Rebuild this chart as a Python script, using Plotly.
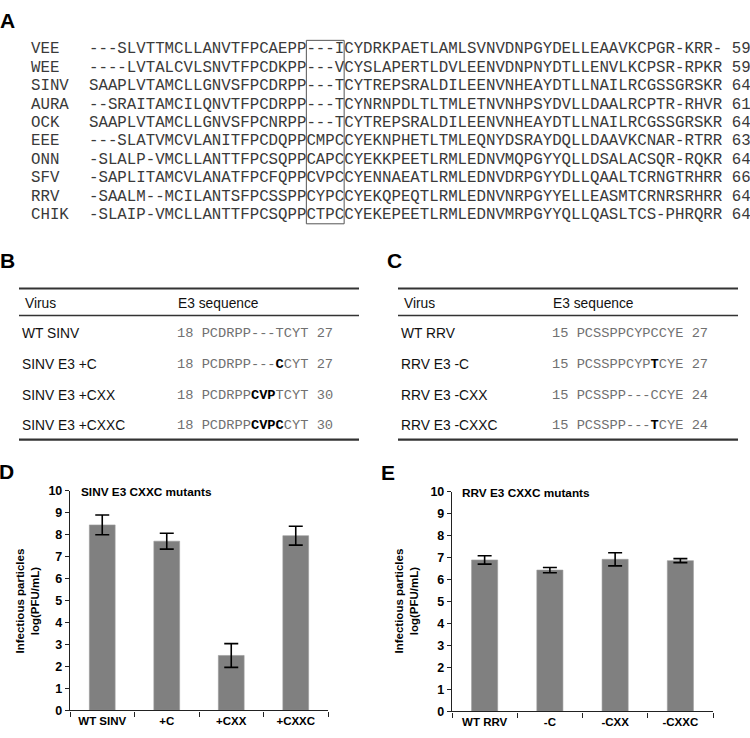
import re

import plotly.graph_objects as go

W, H = 750, 738

# --- A: E3 alignment -------------------------------------------------------
ALIGN_NAMES = ["VEE", "WEE", "SINV", "AURA", "OCK", "EEE", "ONN", "SFV", "RRV", "CHIK"]
ALIGN_SEQS = [
    "---SLVTTMCLLANVTFPCAEPP---ICYDRKPAETLAMLSVNVDNPGYDELLEAAVKCPGR-KRR-",
    "----LVTALCVLSNVTFPCDKPP---VCYSLAPERTLDVLEENVDNPNYDTLLENVLKCPSR-RPKR",
    "SAAPLVTAMCLLGNVSFPCDRPP---TCYTREPSRALDILEENVNHEAYDTLLNAILRCGSSGRSKR",
    "--SRAITAMCILQNVTFPCDRPP---TCYNRNPDLTLTMLETNVNHPSYDVLLDAALRCPTR-RHVR",
    "SAAPLVTAMCLLGNVSFPCNRPP---TCYTREPSRALDILEENVNHEAYDTLLNAILRCGSSGRSKR",
    "---SLATVMCVLANITFPCDQPPCMPCCYEKNPHETLTMLEQNYDSRAYDQLLDAAVKCNAR-RTRR",
    "-SLALP-VMCLLANTTFPCSQPPCAPCCYEKKPEETLRMLEDNVMQPGYYQLLDSALACSQR-RQKR",
    "-SAPLITAMCVLANATFPCFQPPCVPCCYENNAEATLRMLEDNVDRPGYYDLLQAALTCRNGTRHRR",
    "-SAALM--MCILANTSFPCSSPPCYPCCYEKQPEQTLRMLEDNVNRPGYYELLEASMTCRNRSRHRR",
    "-SLAIP-VMCLLANTTFPCSQPPCTPCCYEKEPEETLRMLEDNVMRPGYYQLLQASLTCS-PHRQRR",
]
ALIGN_ENDS = [59, 59, 64, 61, 64, 63, 64, 66, 64, 64]
BOX_COLS = (23, 27)  # boxed CXXC columns

# --- B / C: mutant tables (bold residues in brackets) ----------------------
SINV_VIRUS = ["WT SINV", "SINV E3 +C", "SINV E3 +CXX", "SINV E3 +CXXC"]
SINV_SEQ = ["PCDRPP---TCYT", "PCDRPP---[C]CYT", "PCDRPP[CVP]TCYT", "PCDRPP[CVPC]CYT"]
SINV_START = [18, 18, 18, 18]
SINV_END = [27, 27, 30, 30]

RRV_VIRUS = ["WT RRV", "RRV E3 -C", "RRV E3 -CXX", "RRV E3 -CXXC"]
RRV_SEQ = ["PCSSPPCYPCCYE", "PCSSPPCYP[T]CYE", "PCSSPP---CCYE", "PCSSPP---[T]CYE"]
RRV_START = [15, 15, 15, 15]
RRV_END = [27, 27, 24, 24]

# --- D / E: titres ----------------------------------------------------------
SINV_LABELS = ["WT SINV", "+C", "+CXX", "+CXXC"]
SINV_MEAN = [8.44, 7.70, 2.50, 7.95]
SINV_ERR = [0.45, 0.36, 0.54, 0.43]

RRV_LABELS = ["WT RRV", "-C", "-CXX", "-CXXC"]
RRV_MEAN = [6.89, 6.43, 6.92, 6.86]
RRV_ERR = [0.19, 0.12, 0.30, 0.09]

SANS = "Liberation Sans, Arial, sans-serif"
MONO = "Liberation Mono, Courier New, monospace"


def fx(px):
    return px / W


def fy(py):
    return 1 - py / H


def txt(x, y, text, size, color="#111", family=SANS, xanchor="left", **kw):
    return dict(x=fx(x), y=fy(y), xref="paper", yref="paper", text=text,
                showarrow=False, xanchor=xanchor, yanchor="middle",
                font=dict(family=family, size=size, color=color), **kw)


def hline(x0, x1, y, width):
    return dict(type="line", xref="paper", yref="paper", x0=fx(x0), x1=fx(x1),
                y0=fy(y), y1=fy(y), line=dict(color="#333", width=width))


def mark_bold(s):
    return re.sub(r"\[([^\]]+)\]", r"<span style='color:#000'><b>\1</b></span>", s)


annotations = []
shapes = []

# panel letters
for letter, x, y in [("A", -2, 14), ("B", -2, 258), ("C", 385, 258), ("D", -3, 473), ("E", 379, 474)]:
    annotations.append(txt(x, y, f"<b>{letter}</b>", 21, color="#000"))

# panel A
CW = 15.75 * 0.6
SEQ_X = 87
for i, (name, seq, end) in enumerate(zip(ALIGN_NAMES, ALIGN_SEQS, ALIGN_ENDS)):
    y = 43 + i * 18.8
    annotations.append(txt(29, y, name, 15.75, color="#3a3a3a", family=MONO))
    annotations.append(txt(SEQ_X, y, f"{seq} {end}", 15.75, color="#3a3a3a", family=MONO))
shapes.append(dict(type="rect", xref="paper", yref="paper",
                   x0=fx(SEQ_X + 2 + BOX_COLS[0] * CW), x1=fx(SEQ_X + 2 + BOX_COLS[1] * CW),
                   y0=fy(221), y1=fy(34), line=dict(color="#555", width=1)))


def table(x0, x1, seq_x, virus, seqs, starts, ends):
    shapes.extend([hline(x0, x1, 287, 2), hline(x0, x1, 314.5, 1.6), hline(x0, x1, 441, 2.2)])
    annotations.append(txt(x0 + 4, 302, "Virus", 13.8))
    annotations.append(txt(seq_x - 1, 302, "E3 sequence", 13.8))
    for i, (v, s, a, b) in enumerate(zip(virus, seqs, starts, ends)):
        y = 333 + i * 31.3
        annotations.append(txt(x0 + 1, y, v, 13.8))
        annotations.append(txt(seq_x - 2, y, f"{a} {mark_bold(s)} {b}", 13.7,
                               color="#707070", family=MONO))


table(19, 359, 177, SINV_VIRUS, SINV_SEQ, SINV_START, SINV_END)
table(398, 738, 552, RRV_VIRUS, RRV_SEQ, RRV_START, RRV_END)

fig = go.Figure()
for labels, mean, err, ax in [(SINV_LABELS, SINV_MEAN, SINV_ERR, ""),
                              (RRV_LABELS, RRV_MEAN, RRV_ERR, "2")]:
    fig.add_trace(go.Bar(
        x=labels, y=mean, width=0.4, xaxis="x" + ax, yaxis="y" + ax,
        marker=dict(color="#808080", line=dict(color="#9a9a9a", width=0.6)),
        error_y=dict(type="data", array=err, color="#000", thickness=1.6, width=7),
        showlegend=False,
    ))

xcommon = dict(showline=True, linecolor="#222", linewidth=1.4, ticks="outside",
               tickson="boundaries", ticklen=5, tickcolor="#222", tickwidth=1.2,
               tickfont=dict(family=SANS, size=11.5, color="#000", weight="bold"),
               range=[-0.5, 3.5], showgrid=False, fixedrange=True)
ycommon = dict(showline=True, linecolor="#222", linewidth=1.4, ticks="outside",
               ticklen=4, tickcolor="#222", tickwidth=1.2,
               tickfont=dict(family=SANS, size=12.5, color="#000", weight="bold"),
               range=[0, 10], dtick=1, showgrid=False, zeroline=False, fixedrange=True)

fig.update_layout(
    width=W, height=H, margin=dict(l=0, r=0, t=0, b=0),
    paper_bgcolor="white", plot_bgcolor="white",
    xaxis=dict(domain=[fx(70), fx(328)], anchor="y", **xcommon),
    yaxis=dict(domain=[fy(717), fy(493)], anchor="x", **ycommon),
    xaxis2=dict(domain=[fx(452), fx(713)], anchor="y2", **xcommon),
    yaxis2=dict(domain=[fy(718), fy(494)], anchor="x2", **ycommon),
    bargap=0.6,
)

annotations.append(txt(79, 494, "<b>SINV E3 CXXC mutants</b>", 11.8, color="#000"))
annotations.append(txt(460, 495, "<b>RRV E3 CXXC mutants</b>", 11.8, color="#000"))
for x in (28, 407):
    annotations.append(txt(x, 606, "<b>Infectious particles<br>log(PFU/mL)</b>", 11.5,
                           color="#000", xanchor="center", textangle=-90))

fig.update_layout(annotations=annotations, shapes=shapes)
fig.write_html("out.html", config={"displayModeBar": False},
               post_script="document.body.style.margin='0';")
